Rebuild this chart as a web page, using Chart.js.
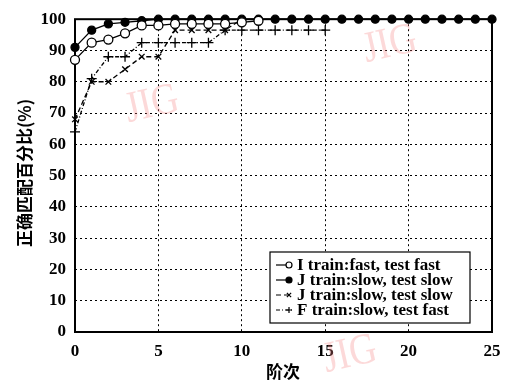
<!DOCTYPE html>
<html>
<head>
<meta charset="utf-8">
<script src="https://cdn.jsdelivr.net/npm/chart.js@4.4.0/dist/chart.umd.min.js"></script>
<style>
  html, body { margin: 0; padding: 0; background: #fff; }
  #wrap { width: 520px; height: 386px; }
</style>
</head>
<body>
<div id="wrap"><canvas id="grafico" width="520" height="386"></canvas></div>
<script>
// dados (阶次 x 正确匹配百分比)
const yTicks = [0, 10, 20, 30, 40, 50, 60, 70, 80, 90, 100]
const xTicks = [0, 5, 10, 15, 20, 25]
const labels = ['I train:fast, test fast', 'J train:slow, test slow', 'J train:slow, test slow', 'F train:slow, test fast']

const iFastFast = [87, 92.5, 93.5, 95.5, 98, 98, 98.5, 98.5, 98.5, 98.5, 99, 99.5]
const jSlowSlow = [91, 96.5, 98.5, 99, 99.5, 100, 100, 100, 100, 100, 100, 100, 100,
  100, 100, 100, 100, 100, 100, 100, 100, 100, 100, 100, 100, 100]
const jSlowSlowX = [68, 80, 80, 84, 88, 88, 96.5, 96.5, 96.5, 96.5, 100]
const fSlowFast = [64, 81, 88, 88, 92.5, 92.5, 92.5, 92.5, 92.5, 96.5, 96.5, 96.5, 96.5, 96.5, 96.5, 96.5]

const serif = '"Liberation Serif", "DejaVu Serif", serif'
const cjk = '"Noto Sans CJK SC", sans-serif'

const pts = arr => arr.map((v, i) => ({ x: i, y: v }))

// moldura, legenda dentro do grafico, titulos e marca d'agua
const extras = {
  id: 'extras',
  beforeDatasetsDraw(chart) {
    const { ctx, chartArea: a } = chart
    ctx.save()
    ctx.strokeStyle = '#000'
    ctx.lineWidth = 2
    ctx.setLineDash([])
    ctx.strokeRect(a.left, a.top, a.right - a.left, a.bottom - a.top)
    ctx.restore()
  },
  afterDraw(chart) {
    const { ctx } = chart
    ctx.save()
    // legenda
    const bx = 270, by = 252, bw = 200, bh = 71
    ctx.fillStyle = '#fff'
    ctx.fillRect(bx, by, bw, bh)
    ctx.strokeStyle = '#000'
    ctx.lineWidth = 1.2
    ctx.strokeRect(bx, by, bw, bh)
    chart.data.datasets.forEach((ds, i) => {
      const y = by + 13 + i * 15
      ctx.strokeStyle = '#000'
      ctx.lineWidth = 1.2
      ctx.setLineDash(ds.borderDash || [])
      ctx.beginPath()
      ctx.moveTo(bx + 6, y)
      ctx.lineTo(bx + 22, y)
      ctx.stroke()
      ctx.setLineDash([])
      ctx.fillStyle = ds.pointBackgroundColor || '#fff'
      Chart.helpers.drawPoint(ctx, {
        pointStyle: ds.pointStyle, radius: 3, borderWidth: 1.2
      }, bx + 19, y)
      ctx.fillStyle = '#000'
      ctx.font = 'bold 17px ' + serif
      ctx.textBaseline = 'middle'
      ctx.textAlign = 'left'
      ctx.fillText(ds.label, bx + 27, y + 1)
    })
    // titulos dos eixos
    ctx.fillStyle = '#000'
    ctx.font = 'bold 17px ' + cjk
    ctx.textAlign = 'center'
    ctx.textBaseline = 'middle'
    ctx.fillText('阶次', 283, 372)
    ctx.save()
    ctx.translate(25, 173)
    ctx.rotate(-Math.PI / 2)
    ctx.fillText('正确匹配百分比(%)', 0, 0)
    ctx.restore()
    // marca d'agua JIG
    ctx.fillStyle = 'rgba(245, 130, 130, 0.3)'
    ctx.font = '44px ' + serif
    ;[[152, 105], [390, 45], [350, 355]].forEach(([x, y]) => {
      ctx.save()
      ctx.translate(x, y)
      ctx.rotate(-0.22)
      ctx.scale(0.85, 1)
      ctx.fillText('JIG', 0, 0)
      ctx.restore()
    })
    ctx.restore()
  }
}

const base = { borderColor: '#000', pointBorderColor: '#000', borderWidth: 1.3, pointBorderWidth: 1.3, clip: false, tension: 0 }

new Chart(document.getElementById('grafico').getContext('2d'), {
  type: 'line',
  data: {
    datasets: [
      { ...base, label: labels[0], data: pts(iFastFast), pointStyle: 'circle', pointRadius: 4.5, pointBackgroundColor: '#fff' },
      { ...base, label: labels[1], data: pts(jSlowSlow), pointStyle: 'circle', pointRadius: 4, pointBackgroundColor: '#000' },
      { ...base, label: labels[2], data: pts(jSlowSlowX), pointStyle: 'crossRot', pointRadius: 4, borderDash: [5, 3] },
      { ...base, label: labels[3], data: pts(fSlowFast), pointStyle: 'cross', pointRadius: 5, borderDash: [4, 2, 1, 2] }
    ]
  },
  options: {
    responsive: false,
    animation: false,
    events: [],
    layout: { padding: { left: 0, right: 28, top: 12, bottom: 0 } },
    plugins: { legend: { display: false }, tooltip: { enabled: false } },
    scales: {
      x: {
        type: 'linear', min: 0, max: 25,
        afterBuildTicks: s => { s.ticks = xTicks.map(v => ({ value: v })) },
        afterFit: s => { s.height = 54 },
        grid: { color: '#000', lineWidth: 1, drawTicks: false },
        border: { display: false, dash: [2, 3] },
        ticks: { color: '#000', padding: 9, font: { family: serif, size: 17, weight: 'bold' }, maxRotation: 0 }
      },
      y: {
        min: 0, max: 100,
        afterBuildTicks: s => { s.ticks = yTicks.map(v => ({ value: v })) },
        afterFit: s => { s.width = 75 },
        grid: { color: '#000', lineWidth: 1, drawTicks: false },
        border: { display: false, dash: [2, 3] },
        ticks: { color: '#000', padding: 9, font: { family: serif, size: 17, weight: 'bold' } }
      }
    }
  },
  plugins: [extras]
})
</script>
</body>
</html>
